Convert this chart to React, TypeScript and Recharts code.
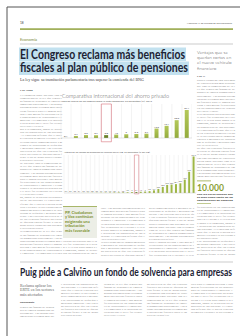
import React from 'react';
import { BarChart, Bar, XAxis, YAxis, CartesianGrid, LabelList, Cell, ReferenceArea } from 'recharts';

// gráfico 1: tasa de ahorro de los hogares
const paises1 = ['Grecia', 'Bélgica', 'Lituania', 'Portugal', 'España', 'Francia', 'Noruega', 'Eslovenia', 'Alemania', 'Finlandia', 'Irlanda', 'Suecia', 'Holanda'];
const ahorro1 = [0.1, 2.7, 3.9, 3.7, 3.8, 4.5, 5.0, 5.3, 5.7, 12.5, 16.1, 23.6, 37.1];

// gráfico 2: activos de fondos de pensiones sobre el PIB
const paises2 = ['Grecia', 'Turquía', 'Luxemburgo', 'Hungría', 'Eslovenia', 'Letonia', 'Polonia', 'Francia', 'Rep. Checa', 'Austria', 'Bélgica', 'Noruega', 'Italia', 'Lituania', 'Alemania', 'Portugal', 'España', 'Eslovaquia', 'Estonia', 'Finlandia', 'N. Zelanda', 'Irlanda', 'Israel', 'Chile', 'Reino Unido', 'Suiza', 'Australia', 'Islandia', 'EEUU', 'Holanda'];
const ahorro2 = [0.1, 0.2, 0.3, 0.4, 0.5, 0.7, 0.8, 0.9, 1.1, 1.3, 1.5, 1.8, 2.0, 2.3, 2.6, 3.0, 3.4, 4.2, 5.0, 6.3, 9.1, 13.9, 20.8, 27.6, 28.9, 30.4, 33.2, 45.8, 72.5, 124.9];

const destacado = 'España';

const datos1 = paises1.map((p, i) => ({ pais: p, valor: ahorro1[i] }));
const datos2 = paises2.map((p, i) => ({ pais: p, valor: ahorro2[i] }));

const FILLER =
  'El Congreso sigue adelante con la tramitación de la ley que regula los fondos de pensiones de empleo promovidos públicamente. ' +
  'Los grupos parlamentarios reclaman más incentivos fiscales para el ahorro privado y una mayor flexibilidad en las aportaciones de trabajadores y empresas. ' +
  'La enmienda a la totalidad presentada por el BNG fue rechazada en el pleno y el texto pasa ahora a la comisión, donde se debatirán las propuestas de los partidos. ' +
  'El Gobierno defiende que el nuevo vehículo permitirá extender la previsión social complementaria a millones de asalariados de pequeñas y medianas empresas. ' +
  'Los expertos advierten de que las ventajas fiscales previstas se quedan cortas frente a las de otros países europeos con sistemas de capitalización más desarrollados. ';

const boundaries = (n: number) => ({ offset }: any) => {
  const out: number[] = [];
  for (let i = 0; i <= n; i++) out.push(offset.left + (i * offset.width) / n);
  return out;
};

const TextBlock = ({ x, y, w, rows, lh = 3.1, fs = 2.6, fill = '#8a8a8a', start = 0 }: any) => {
  const per = Math.round(w / (fs * 0.48));
  const lines = [];
  for (let i = 0; i < rows; i++) {
    const s = (start + i * per) % (FILLER.length - per);
    lines.push(FILLER.slice(s, s + per));
  }
  return (
    <g>
      {lines.map((t, i) => (
        <text key={i} x={x} y={y + i * lh} fontSize={fs} fill={fill} fontFamily="Liberation Serif"
          textLength={i % 11 === 10 ? w * 0.55 : w} lengthAdjust="spacingAndGlyphs">{t}</text>
      ))}
    </g>
  );
};

const Tick1 = ({ x, y, payload }: any) => (
  <text x={x} y={y + 2.5} fontSize={2.1} textAnchor="middle" fill="#555" fontFamily="Lato"
    textLength={7} lengthAdjust="spacingAndGlyphs">{payload.value}</text>
);

const Tick2 = ({ x, y, payload, index }: any) => (
  <text x={x} y={y + (index % 2 === 0 ? 2 : 4.2)} fontSize={1.7} textAnchor="middle" fill="#555" fontFamily="Lato"
    textLength={4} lengthAdjust="spacingAndGlyphs">{payload.value}</text>
);

const Graficos = () => (
  <>
    <div style={{ position: 'absolute', left: 60, top: 100 }}>
      <BarChart width={132} height={44} data={datos1} margin={{ top: 4, right: 0, left: 1, bottom: 0 }} barCategoryGap="28%">
        <defs>
          <linearGradient id="verde1" x1="0" y1="0" x2="0" y2="1">
            <stop offset="0%" stopColor="#b4c85a" />
            <stop offset="100%" stopColor="#93ab3c" />
          </linearGradient>
        </defs>
        <CartesianGrid horizontal={false} stroke="#e6e6e6" strokeWidth={0.5} verticalCoordinatesGenerator={boundaries(paises1.length)} />
        <XAxis dataKey="pais" interval={0} height={6} tick={<Tick1 />} tickLine={false} axisLine={{ stroke: '#bbb', strokeWidth: 0.4 }} />
        <YAxis hide domain={[0, 45]} />
        <ReferenceArea x1={destacado} x2={destacado} y1={-5} y2={45} ifOverflow="visible" fill="none" stroke="#d9707a" strokeWidth={0.6} />
        <Bar dataKey="valor" isAnimationActive={false} fill="url(#verde1)">
          {datos1.map((d) => (
            <Cell key={d.pais} fill={d.pais === destacado ? '#6a8228' : 'url(#verde1)'} />
          ))}
          <LabelList dataKey="valor" position="top" offset={1} fontSize={2.5} fill="#333" fontFamily="Lato" />
        </Bar>
      </BarChart>
    </div>
    <div style={{ position: 'absolute', left: 63, top: 150 }}>
      <BarChart width={134} height={50} data={datos2} margin={{ top: 5, right: 1, left: 1, bottom: 0 }} barCategoryGap="22%">
        <CartesianGrid horizontal={false} stroke="#e6e6e6" strokeWidth={0.4} verticalCoordinatesGenerator={boundaries(paises2.length)} />
        <XAxis dataKey="pais" interval={0} height={7} tick={<Tick2 />} tickLine={false} axisLine={{ stroke: '#bbb', strokeWidth: 0.4 }} />
        <YAxis hide domain={[0, 130]} />
        <ReferenceArea x1={destacado} x2={destacado} y1={-3} y2={130} ifOverflow="visible" fill="none" stroke="#d9707a" strokeWidth={0.5} />
        <Bar dataKey="valor" isAnimationActive={false}>
          {datos2.map((d) => (
            <Cell key={d.pais} fill={d.pais === destacado ? '#6a8228' : '#9fb746'} />
          ))}
          <LabelList dataKey="valor" position="top" offset={0.8} fontSize={1.6} fill="#333" fontFamily="Lato" />
        </Bar>
      </BarChart>
    </div>
  </>
);

export default function App() {
  const sans = 'Lato';
  return (
    <div style={{ position: 'fixed', left: 0, top: 0, width: 240, height: 336, background: '#fff', overflow: 'hidden' }}>
      <svg width={240} height={336} style={{ position: 'absolute', left: 0, top: 0 }}>
        {/* marco */}
        <line x1={7} y1={7} x2={240} y2={7} stroke="#555" strokeWidth={1} />
        <line x1={7} y1={7} x2={7} y2={336} stroke="#555" strokeWidth={1} />

        {/* cabecera */}
        <text x={20} y={24} fontSize={3.2} fill="#444" fontFamily={sans}>18</text>
        <text x={187} y={24} fontSize={2.6} fill="#555" fontFamily={sans}
          textLength={45} lengthAdjust="spacingAndGlyphs">MIÉRCOLES, 21 DE OCTUBRE DE 2020 elEconomista</text>
        <rect x={20} y={28.3} width={213} height={1.6} fill="#98a84a" />
        <text x={20} y={40.5} fontSize={4} fill="#7d8c3c" fontFamily={sans}>Economía</text>
        <line x1={20} y1={44} x2={233} y2={44} stroke="#aaa" strokeWidth={0.6} />

        {/* titular */}
        <rect x={19} y={47.5} width={167} height={13.5} fill="#c2e1ef" />
        <rect x={19} y={61.5} width={170} height={13.5} fill="#c2e1ef" />
        <text x={20} y={58.5} fontSize={13} fontWeight={700} fill="#1c2334" fontFamily={sans}
          textLength={165} lengthAdjust="spacingAndGlyphs">El Congreso reclama más beneficios</text>
        <text x={20} y={72} fontSize={13} fontWeight={700} fill="#1c2334" fontFamily={sans}
          textLength={168} lengthAdjust="spacingAndGlyphs">fiscales al plan público de pensiones</text>
        <text x={20} y={81} fontSize={4.2} fill="#444" fontFamily="Liberation Serif"
          textLength={124} lengthAdjust="spacingAndGlyphs">La ley sigue su tramitación parlamentaria tras superar la enmienda del BNG</text>

        {/* columna izquierda */}
        <text x={20} y={91} fontSize={2.6} fill="#333" fontWeight={700} fontFamily={sans}>J. M. Arcos</text>
        <TextBlock x={20} y={96} w={42} rows={52} start={0} />

        {/* gráficos: títulos */}
        <text x={62} y={98} fontSize={5.4} fill="#555" fontWeight={300} fontFamily={sans}
          textLength={107} lengthAdjust="spacingAndGlyphs">Comparativa internacional del ahorro privado</text>
        <text x={62} y={102} fontSize={1.9} fill="#555" fontFamily={sans}
          textLength={90} lengthAdjust="spacingAndGlyphs">Tasa de ahorro de los hogares sobre la renta disponible, en porcentaje (%), 2019</text>
        <text x={64} y={152.5} fontSize={1.9} fill="#555" fontFamily={sans}
          textLength={86} lengthAdjust="spacingAndGlyphs">Activos de los fondos de pensiones en relación con el PIB, en porcentaje (% del PIB)</text>

        {/* despiece */}
        <rect x={63} y={206} width={34} height={32} fill="#eceee6" />
        <rect x={63} y={206} width={34} height={0.8} fill="#98a84a" />
        {['PP, Ciudadanos', 'y Vox continúan', 'exigiendo una', 'tributación', 'más favorable'].map((t, i) => (
          <text key={t} x={65} y={214 + i * 4.4} fontSize={4} fontWeight={700} fill="#7c912f" fontFamily={sans}>{t}</text>
        ))}
        <TextBlock x={63} y={242} w={34} rows={5} start={300} />
        <TextBlock x={101} y={209} w={44} rows={16} start={120} />
        <TextBlock x={149} y={209} w={45} rows={16} start={520} />

        {/* columna derecha */}
        {['Ventajas que se', 'quedan cortas en', 'el nuevo vehículo', 'financiero'].map((t, i) => (
          <text key={t} x={197} y={54 + i * 5.2} fontSize={4.6} fontWeight={300} fill="#555" fontFamily={sans}>{t}</text>
        ))}
        <text x={197} y={76.5} fontSize={2.6} fill="#333" fontWeight={700} fontFamily={sans}>J. M. A.</text>
        <TextBlock x={197} y={81} w={38} rows={32} start={700} />
        <rect x={197} y={180.5} width={14} height={0.8} fill="#98a84a" />
        <text x={197} y={191} fontSize={10} fontWeight={700} fill="#8aa035" fontFamily={sans}
          textLength={27} lengthAdjust="spacingAndGlyphs">10.000</text>
        {['Son los euros anuales que', 'se fijan como límite de las', 'aportaciones de empresa'].map((t, i) => (
          <text key={t} x={197} y={195 + i * 3} fontSize={2.6} fontWeight={700} fill="#333" fontFamily={sans}
            textLength={36} lengthAdjust="spacingAndGlyphs">{t}</text>
        ))}
        <rect x={197} y={203} width={14} height={0.6} fill="#98a84a" />
        <TextBlock x={197} y={208} w={38} rows={16} start={220} />

        {/* noticia inferior */}
        <line x1={20} y1={262} x2={233} y2={262} stroke="#aaa" strokeWidth={0.6} />
        <text x={20} y={276} fontSize={10.5} fontWeight={700} fill="#1c2334" fontFamily={sans}
          textLength={212} lengthAdjust="spacingAndGlyphs">Puig pide a Calviño un fondo de solvencia para empresas</text>
        {['Reclama aplicar los', 'ERTE en los sectores', 'más afectados'].map((t, i) => (
          <text key={t} x={20} y={287 + i * 4.3} fontSize={4} fill="#666" fontFamily="Liberation Serif">{t}</text>
        ))}
        <text x={20} y={303} fontSize={2.4} fill="#333" fontWeight={700} fontFamily={sans}>elEconomista</text>
        <TextBlock x={20} y={308} w={34} rows={4} start={60} />
        <TextBlock x={61} y={285} w={37} rows={11} start={400} />
        <TextBlock x={104} y={285} w={38} rows={11} start={40} />
        <TextBlock x={147} y={285} w={40} rows={11} start={610} />
        <TextBlock x={191} y={285} w={42} rows={10} start={180} />
      </svg>
      <Graficos />
    </div>
  );
}
